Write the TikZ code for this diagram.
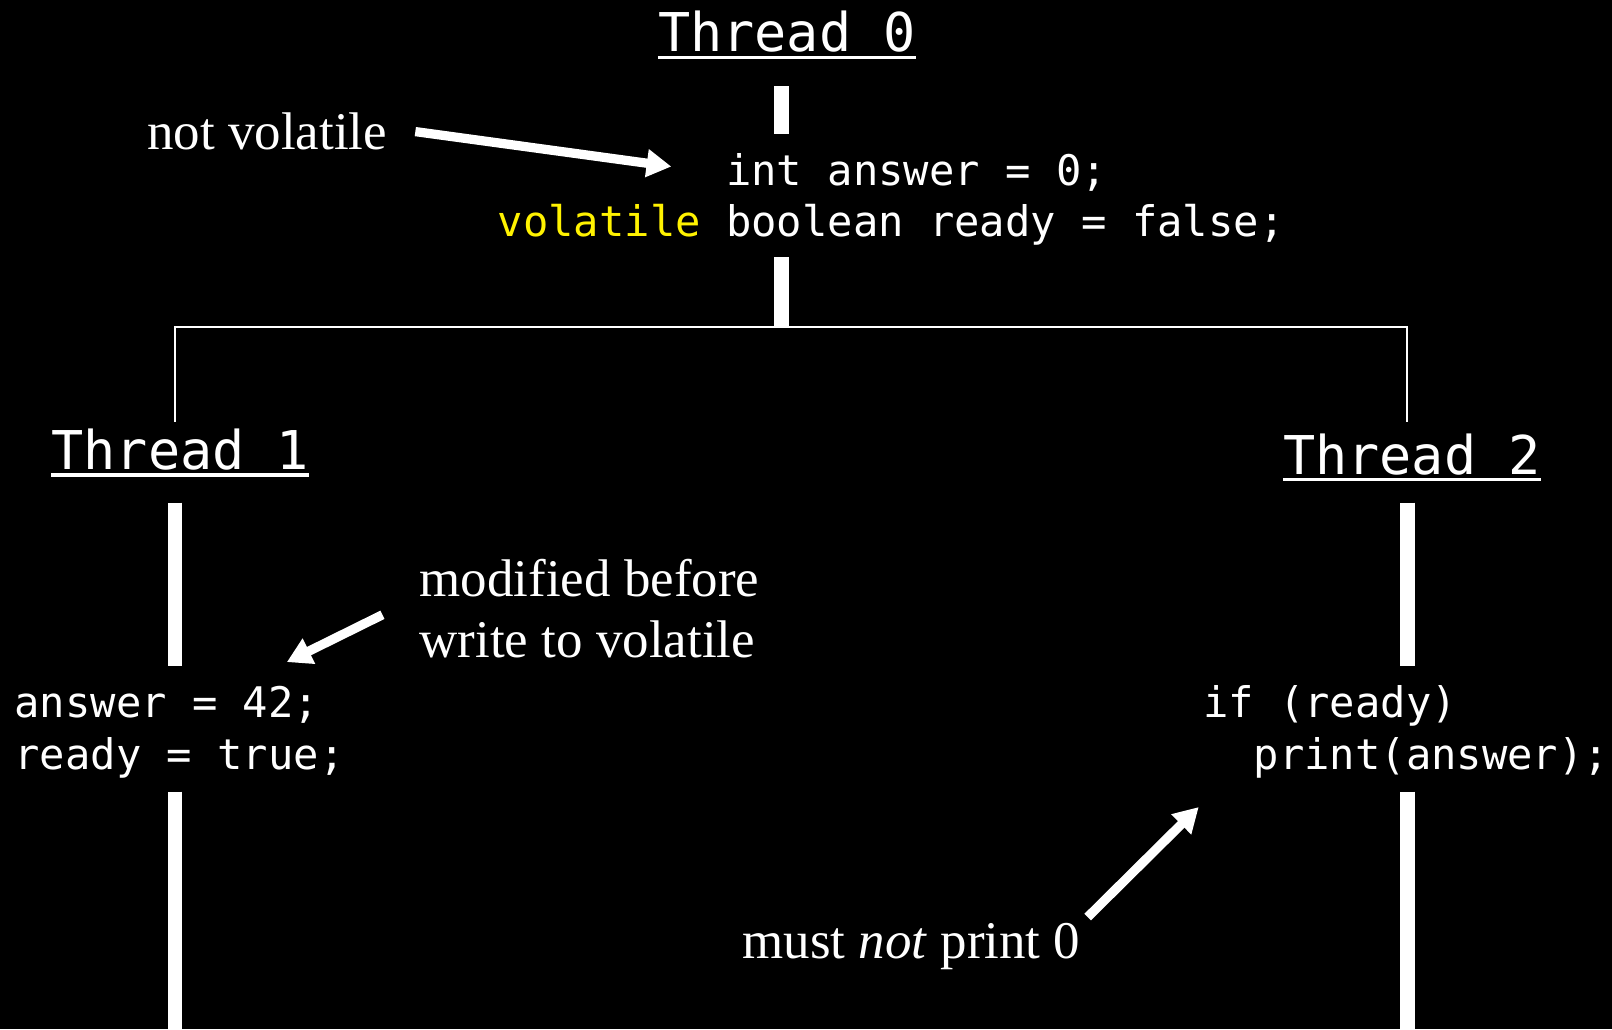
\documentclass[tikz,border=0pt]{standalone}
\usepackage{fontspec}
\setmainfont{Liberation Serif}
\setmonofont{DejaVu Sans Mono}
\usetikzlibrary{arrows.meta,calc}

\tikzset{
  title/.style={anchor=base west, inner sep=0pt, text=white,
    font=\ttfamily\fontsize{52}{60}\selectfont},
  code/.style={anchor=base west, inner sep=0pt, text=white,
    font=\ttfamily\fontsize{41}{50}\selectfont},
  note/.style={anchor=base west, inner sep=0pt, text=white,
    font=\fontsize{51.5}{60}\selectfont},
  bar/.style={white, line width=14pt, line cap=butt},
  fork/.style={white, line width=2pt},
  uline/.style={white, line width=3pt},
  pointer/.style={white, line width=9pt,
    -{Triangle[length=24pt,width=26pt]}}
}

\begin{document}
\begin{tikzpicture}[x=1pt,y=-1pt]
  % page frame and background
  \useasboundingbox (0,0) rectangle (1568,1001);
  \fill[black] (0,0) rectangle (1568,1001);

  % thread titles
  \node[title] (t0) at (640,50) {Thread 0};
  \node[title] (t1) at (50,457) {Thread 1};
  \node[title] (t2) at (1248,462) {Thread 2};
  \draw[uline] ($(t0.base west)+(0,6)$) -- ($(t0.base east)+(0,6)$);
  \draw[uline] ($(t1.base west)+(0,5)$) -- ($(t1.base east)+(0,5)$);
  \draw[uline] ($(t2.base west)+(0,4)$) -- ($(t2.base east)+(0,4)$);

  % thread 0 code
  \node[code] (c0a) at (484,180) {\phantom{volatile }int answer = 0;};
  \node[code] (c0b) at (484,230) {\textcolor{yellow}{volatile} boolean ready = false;};

  % thread 1 code
  \node[code] (c1a) at (14,698) {answer = 42;};
  \node[code] (c1b) at (14,748) {ready = true;};

  % thread 2 code
  \node[code] (c2a) at (1170,698) {if (ready)};
  \node[code] (c2b) at (1170,748) {\phantom{pr}print(answer);};

  % timeline anchors
  \coordinate (m0top) at (760,84);
  \coordinate (m0mid) at (760,130);
  \coordinate (m0low) at (760,250);
  \coordinate (fork) at (760,318);
  \coordinate (forkL) at (170,318);
  \coordinate (forkR) at (1369,318);
  \coordinate (dropL) at (170,410);
  \coordinate (dropR) at (1369,410);
  \coordinate (l1a) at (170,489);
  \coordinate (l1b) at (170,648);
  \coordinate (l1c) at (170,770);
  \coordinate (l1d) at (170,1001);
  \coordinate (l2a) at (1369,489);
  \coordinate (l2b) at (1369,648);
  \coordinate (l2c) at (1369,770);
  \coordinate (l2d) at (1369,1001);

  % thread timelines
  \draw[bar] (m0top) -- (m0mid);
  \draw[bar] (m0low) -- (fork);
  \draw[fork] (dropL) -- (forkL) -- (forkR) -- (dropR);
  \draw[bar] (l1a) -- (l1b);
  \draw[bar] (l1c) -- (l1d);
  \draw[bar] (l2a) -- (l2b);
  \draw[bar] (l2c) -- (l2d);

  % annotations
  \node[note] (n0) at (143,145) {not volatile};
  \node[note] (n1) at (408,580) {modified before};
  \node[note] (n2) at (408,640) {write to volatile};
  \node[note] (n3) at (722,932) {must \textit{not} print 0};

  \coordinate (p0s) at (404,128);
  \coordinate (p0e) at (653,162);
  \coordinate (p1s) at (372,598);
  \coordinate (p1e) at (279,644);
  \coordinate (p2s) at (1058,892);
  \coordinate (p2e) at (1166,785);

  \draw[pointer] (p0s) -- (p0e);
  \draw[pointer] (p1s) -- (p1e);
  \draw[pointer] (p2s) -- (p2e);
\end{tikzpicture}
\end{document}
